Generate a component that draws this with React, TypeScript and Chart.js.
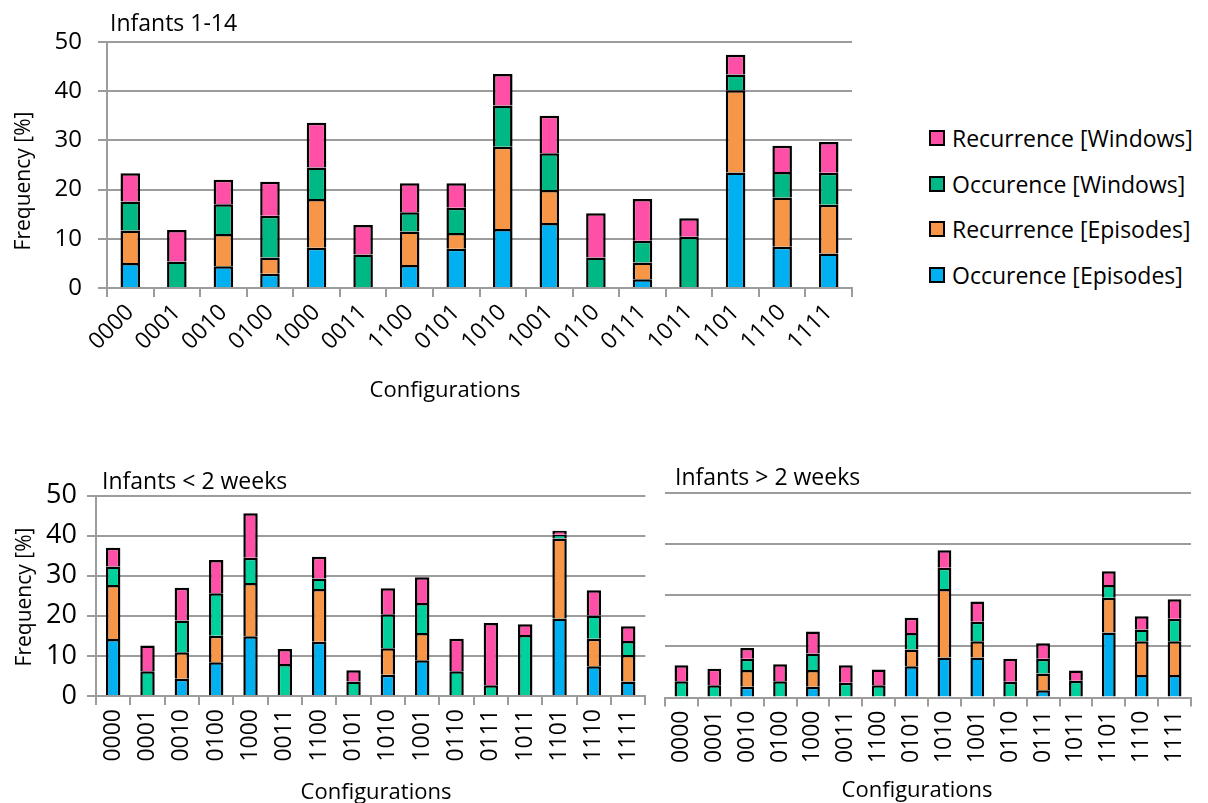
import React, { useEffect, useRef } from "react";
import { Chart, registerables } from "chart.js";
Chart.register(...registerables);

const FONT = "'Open Sans', sans-serif";
const GRID = "#9c9c9c";
const BLUE = "#00B0F0";
const ORANGE = "#F79646";
const GREEN_TOP = "#00B884";
const GREEN_BOTTOM = "#00D19C";
const PINK = "#FF4FA6";

const configurations = ["0000", "0001", "0010", "0100", "1000", "0011", "1100", "0101", "1010", "1001", "0110", "0111", "1011", "1101", "1110", "1111"];
const seriesNames = ["Occurence [Episodes]", "Recurrence [Episodes]", "Occurence [Windows]", "Recurrence [Windows]"];
const yTicks = [0, 10, 20, 30, 40, 50];

// Infants 1-14
const allOccEpisodes = [5.1, null, 4.4, 2.9, 8.2, null, 4.7, 8.0, 12.0, 13.2, null, 1.8, null, 23.5, 8.4, 7.0];
const allRecEpisodes = [6.6, null, 6.6, 3.3, 9.9, null, 6.8, 3.2, 16.7, 6.7, null, 3.4, null, 16.7, 10.0, 9.9];
const allOccWindows = [5.9, 5.4, 6.0, 8.5, 6.4, 6.8, 3.9, 5.1, 8.4, 7.5, 6.2, 4.4, 10.4, 3.2, 5.2, 6.5];
const allRecWindows = [5.7, 6.4, 5.0, 6.9, 9.1, 6.0, 5.9, 5.0, 6.4, 7.6, 9.0, 8.5, 3.8, 4.0, 5.3, 6.3];

// Infants < 2 weeks
const youngOccEpisodes = [14.2, null, 4.3, 8.4, 14.9, null, 13.5, null, 5.3, 8.9, null, null, null, 19.3, 7.4, 3.6];
const youngRecEpisodes = [13.5, null, 6.6, 6.6, 13.3, null, 13.2, null, 6.6, 6.8, null, null, null, 20.0, 6.9, 6.6];
const youngOccWindows = [4.6, 6.2, 7.9, 10.6, 6.3, 8.0, 2.6, 3.6, 8.5, 7.5, 6.2, 2.7, 15.2, 0.9, 5.8, 3.5];
const youngRecWindows = [4.7, 6.4, 8.2, 8.3, 11.1, 3.7, 5.4, 2.8, 6.5, 6.4, 8.1, 15.5, 2.7, 1.0, 6.3, 3.7];

// Infants > 2 weeks
const olderOccEpisodes = [null, null, 2.1, null, 2.1, null, null, 6.1, 7.8, 7.8, null, 1.4, null, 12.7, 4.4, 4.4];
const olderRecEpisodes = [null, null, 3.3, null, 3.3, null, null, 3.3, 13.4, 3.2, null, 3.3, null, 6.8, 6.6, 6.6];
const olderOccWindows = [3.2, 2.4, 2.2, 3.2, 3.2, 2.9, 2.4, 3.2, 4.2, 3.8, 3.1, 2.9, 3.3, 2.5, 2.3, 4.4];
const olderRecWindows = [3.1, 3.2, 2.1, 3.3, 4.3, 3.4, 3.1, 3.0, 3.4, 4.0, 4.5, 3.0, 2.0, 2.7, 2.6, 3.8];

type PanelProps = {
  left: number; top: number; w: number; h: number;
  plotLeft: number; plotRight: number; plotTop: number; plotBottom: number;
  yMax: number; showY: boolean; yFont: number; yPad: number;
  xFont: number; xPad: number; rotation: number; green: string;
  series: (number | null)[][];
};

function Panel(p: PanelProps) {
  const ref = useRef<HTMLCanvasElement>(null);
  useEffect(() => {
    if (!ref.current) return;
    const colors = [BLUE, ORANGE, p.green, PINK];
    const chart = new Chart(ref.current, {
      type: "bar",
      data: {
        labels: configurations,
        datasets: p.series.map((d, i) => ({
          label: seriesNames[i],
          data: d,
          backgroundColor: colors[i],
          borderColor: "#000",
          borderWidth: 2.5,
          barPercentage: 0.42,
          categoryPercentage: 1,
        })),
      },
      options: {
        animation: false,
        responsive: false,
        maintainAspectRatio: false,
        devicePixelRatio: 1,
        layout: { padding: { left: 0, top: p.plotTop, right: p.w - p.plotRight, bottom: 0 } },
        plugins: { legend: { display: false }, title: { display: false }, tooltip: { enabled: false } },
        scales: {
          x: {
            stacked: true,
            grid: { offset: true, drawOnChartArea: false, drawTicks: true, tickLength: 9, color: GRID, lineWidth: 2 },
            border: { display: true, color: GRID, width: 2 },
            ticks: {
              color: "#000",
              font: { family: FONT, size: p.xFont },
              minRotation: p.rotation,
              maxRotation: p.rotation,
              autoSkip: false,
              padding: p.xPad,
            },
            afterFit: (s: any) => { s.height = p.h - p.plotBottom; },
          },
          y: {
            stacked: true,
            min: 0,
            max: p.yMax,
            afterBuildTicks: (s: any) => { s.ticks = yTicks.filter((v) => v <= p.yMax).map((v) => ({ value: v })); },
            ticks: { display: p.showY, color: "#000", font: { family: FONT, size: p.yFont }, padding: p.yPad },
            grid: { color: GRID, lineWidth: 2, drawTicks: p.showY, tickLength: p.showY ? 9 : 0 },
            border: { display: p.showY, color: GRID, width: 2 },
            afterFit: (s: any) => { s.width = p.plotLeft; },
          },
        },
      } as any,
    });
    return () => chart.destroy();
  }, []);
  return (
    <canvas
      ref={ref}
      width={p.w}
      height={p.h}
      style={{ position: "absolute", left: p.left, top: p.top, width: p.w, height: p.h }}
    />
  );
}

const textStyle = (x: number, y: number, size: number, extra: any = {}) => ({
  position: "absolute" as const,
  left: x,
  top: y,
  fontFamily: FONT,
  fontSize: size,
  lineHeight: "28px",
  color: "#000",
  whiteSpace: "nowrap" as const,
  ...extra,
});

function Label({ text, cx, cy, size, rotate = 0 }: { text: string; cx: number; cy: number; size: number; rotate?: number }) {
  return (
    <div
      style={{
        position: "absolute",
        left: cx,
        top: cy,
        transform: `translate(-50%, -50%) rotate(${rotate}deg)`,
        fontFamily: FONT,
        fontSize: size,
        lineHeight: "28px",
        color: "#000",
        whiteSpace: "nowrap",
      }}
    >
      {text}
    </div>
  );
}

const legendColors = [BLUE, ORANGE, GREEN_TOP, PINK];
const legendY = [275, 229, 184, 138];

export default function App() {
  return (
    <div style={{ position: "absolute", left: 0, top: 0, width: 1208, height: 803, background: "#fff", overflow: "hidden" }}>
      <Panel
        left={0} top={0} w={880} h={400}
        plotLeft={107} plotRight={852} plotTop={42} plotBottom={288}
        yMax={50} showY={true} yFont={24} yPad={16}
        xFont={23} xPad={2} rotation={45} green={GREEN_TOP}
        series={[allOccEpisodes, allRecEpisodes, allOccWindows, allRecWindows]}
      />
      <Panel
        left={0} top={460} w={660} h={343}
        plotLeft={96} plotRight={655} plotTop={35.5} plotBottom={236}
        yMax={50} showY={true} yFont={27} yPad={10}
        xFont={23} xPad={4} rotation={90} green={GREEN_BOTTOM}
        series={[youngOccEpisodes, youngRecEpisodes, youngOccWindows, youngRecWindows]}
      />
      <Panel
        left={660} top={460} w={548} h={343}
        plotLeft={5} plotRight={531} plotTop={33} plotBottom={237.5}
        yMax={40} showY={false} yFont={24} yPad={10}
        xFont={23} xPad={4} rotation={90} green={GREEN_BOTTOM}
        series={[olderOccEpisodes, olderRecEpisodes, olderOccWindows, olderRecWindows]}
      />

      <div style={textStyle(110, 8, 23)}>Infants 1-14</div>
      <div style={textStyle(102, 466, 23)}>Infants &lt; 2 weeks</div>
      <div style={textStyle(675, 462, 23)}>Infants &gt; 2 weeks</div>

      <Label text="Configurations" cx={445} cy={388} size={22} />
      <Label text="Configurations" cx={376} cy={790} size={22} />
      <Label text="Configurations" cx={917} cy={788} size={22} />
      <Label text="Frequency [%]" cx={22} cy={181} size={21} rotate={-90} />
      <Label text="Frequency [%]" cx={23} cy={597} size={21} rotate={-90} />

      {seriesNames.map((name, i) => (
        <div key={name} style={{ position: "absolute", left: 929, top: legendY[i] - 14, height: 28, display: "flex", alignItems: "center" }}>
          <div style={{ width: 12, height: 12, background: legendColors[i], border: "2px solid #000", marginRight: 7 }} />
          <div style={{ fontFamily: FONT, fontSize: 23, lineHeight: "28px", color: "#000", whiteSpace: "nowrap" }}>{name}</div>
        </div>
      ))}
    </div>
  );
}
